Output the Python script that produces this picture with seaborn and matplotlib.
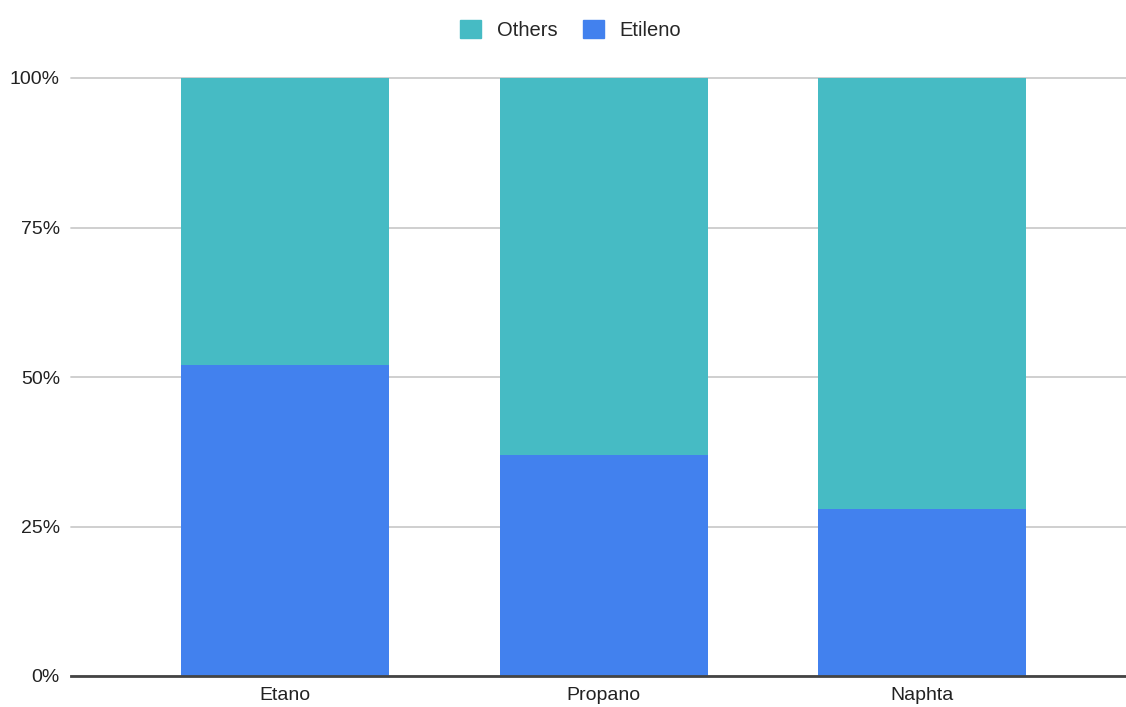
import numpy as np
import pandas as pd
import matplotlib
matplotlib.use('Agg')
import matplotlib.pyplot as plt
import matplotlib.patches as mpatches
import seaborn as sns

# datos
feedstocks = ['Etano', 'Propano', 'Naphta']
etileno = [52, 37, 28]
others = [48, 63, 72]

c_others = '#46BBC4'
c_etileno = '#4281EE'

sns.set_style('white')
plt.rcParams['font.family'] = ['Liberation Sans', 'DejaVu Sans']

df = pd.DataFrame({'feed': feedstocks,
                   'etileno': np.array(etileno) / 100,
                   'others': np.array(others) / 100})
df['total'] = df['etileno'] + df['others']

fig = plt.figure(figsize=(11.26, 7.07), dpi=100)
ax = fig.add_axes([71 / 1126, 1 - 676 / 707, 1 - 71 / 1126, (676 - 78) / 707])

# barras apiladas: total (others encima) y luego etileno
sns.barplot(data=df, x='feed', y='total', color=c_others, width=0.653,
            saturation=1, linewidth=0, ax=ax, zorder=2)
sns.barplot(data=df, x='feed', y='etileno', color=c_etileno, width=0.653,
            saturation=1, linewidth=0, ax=ax, zorder=3)

ax.set_ylim(0, 1)
ax.set_xlim(-0.672, 2.64)
ax.set_yticks([0, 0.25, 0.5, 0.75, 1.0])
ax.set_yticklabels(['0%', '25%', '50%', '75%', '100%'])
ax.set_xlabel('')
ax.set_ylabel('')
ax.tick_params(axis='both', length=0, labelsize=14, colors='#222222')
ax.tick_params(axis='y', pad=8)
ax.tick_params(axis='x', pad=8)

for s in ['top', 'right', 'left']:
    ax.spines[s].set_visible(False)
ax.spines['bottom'].set_color('#444444')
ax.spines['bottom'].set_linewidth(2)
ax.spines['bottom'].set_zorder(5)

ax.yaxis.grid(True, color='#cccccc', linewidth=1.3, zorder=0)
ax.set_axisbelow(True)
for line in ax.get_ygridlines():
    line.set_clip_on(False)

handles = [mpatches.Patch(color=c_others, label='Others'),
           mpatches.Patch(color=c_etileno, label='Etileno')]
fig.legend(handles=handles, loc='center', bbox_to_anchor=(0.507, 1 - 30 / 707),
           ncol=2, frameon=False, fontsize=14.5, handlelength=1.0,
           handleheight=1.0, columnspacing=1.3, handletextpad=0.8)

fig.savefig('out.png', dpi=100)
